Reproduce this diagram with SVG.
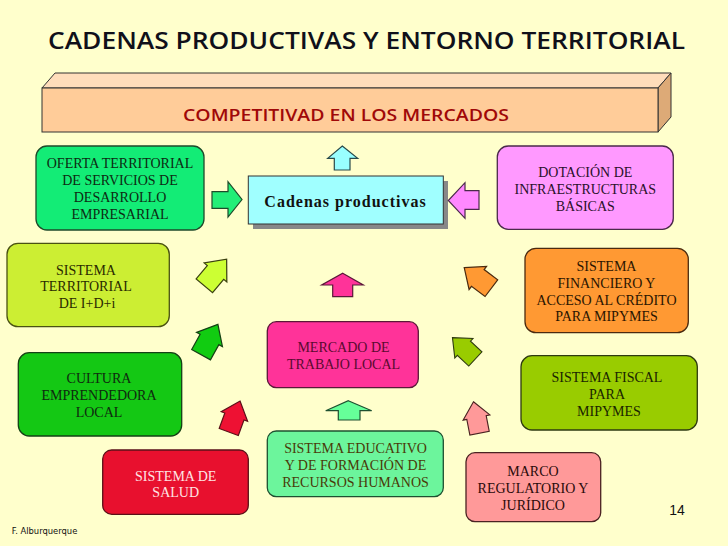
<svg xmlns="http://www.w3.org/2000/svg" xmlns:xlink="http://www.w3.org/1999/xlink" width="728" height="546" viewBox="0 0 728 546">
<style>
.bg{fill:#FFFFCC}
.box{stroke-width:1.3}
.t{font-family:"Liberation Serif","Times New Roman",serif;font-size:14px;text-anchor:middle}
.arr{stroke-width:1.2;stroke-linejoin:miter}
.title{font-family:"Open Sans","DejaVu Sans",Verdana,sans-serif;font-weight:600;font-size:23px;fill:#10101A;text-anchor:middle}
.bar{font-family:"Open Sans","DejaVu Sans",Verdana,sans-serif;font-weight:600;font-size:17px;fill:#A00808;text-anchor:middle}
</style>
<defs>
<path id="blk" d="M0,-17 L14.5,0 L10.5,0 L10.5,17 L-10.5,17 L-10.5,0 L-14.5,0 Z"/>
</defs>
<rect class="bg" x="0" y="0" width="728" height="546"/>

<text class="title" x="366.5" y="49" textLength="637" lengthAdjust="spacingAndGlyphs">CADENAS PRODUCTIVAS Y ENTORNO TERRITORIAL</text>

<g id="competitividad">
<polygon points="42,88 55,73 671,73 658,88" fill="#FFDDBB" stroke="#333" stroke-width="1"/>
<polygon points="658,88 671,73 671,117 658,132" fill="#DDAA77" stroke="#333" stroke-width="1"/>
<rect x="42" y="88" width="616" height="44" fill="#FFCC99" stroke="#333" stroke-width="1"/>
<text class="bar" x="346" y="120.5" textLength="326" lengthAdjust="spacingAndGlyphs">COMPETITIVAD EN LOS MERCADOS</text>
</g>

<g id="cadenas">
<rect x="253" y="181" width="195" height="48" fill="#888888"/>
<rect x="248.3" y="176" width="195" height="48" fill="#A0FFFF" stroke="#333" stroke-width="1"/>
<text x="345.5" y="206.5" font-family="'Liberation Serif','Times New Roman',serif" font-weight="bold" font-size="16" letter-spacing="1" text-anchor="middle" fill="#111">Cadenas productivas</text>
</g>

<g id="oferta">
<rect class="box" x="36" y="146" width="168" height="84" rx="11" fill="#13EC76" stroke="#1E4A2A"/>
<text class="t" fill="#0D2A12"><tspan x="120" y="168">OFERTA TERRITORIAL</tspan><tspan x="120" y="185">DE SERVICIOS DE</tspan><tspan x="120" y="202">DESARROLLO</tspan><tspan x="120" y="219">EMPRESARIAL</tspan></text>
</g>

<g id="territorial">
<rect class="box" x="7" y="243.3" width="162.3" height="83.4" rx="11" fill="#CCEE33" stroke="#4A5212"/>
<text class="t" fill="#2A2A00"><tspan x="86" y="274.7">SISTEMA</tspan><tspan x="86" y="291.3">TERRITORIAL</tspan><tspan x="87" y="308">DE I+D+i</tspan></text>
</g>

<g id="cultura">
<rect class="box" x="18.3" y="352.7" width="163.4" height="83.3" rx="11" fill="#14C814" stroke="#154015"/>
<text class="t" fill="#0F2A0F"><tspan x="99" y="383.3">CULTURA</tspan><tspan x="99" y="400.3">EMPRENDEDORA</tspan><tspan x="99" y="417.3">LOCAL</tspan></text>
</g>

<g id="salud">
<rect class="box" x="102.7" y="450" width="145.6" height="64.3" rx="9" fill="#E8102E" stroke="#5A1018"/>
<text class="t" fill="#FFE4E4"><tspan x="175.7" y="480.7">SISTEMA DE</tspan><tspan x="175.7" y="497.3">SALUD</tspan></text>
</g>

<g id="mercado">
<rect class="box" x="267.3" y="321.7" width="151" height="66" rx="9" fill="#FF3399" stroke="#5A1838"/>
<text class="t" fill="#5A0A30"><tspan x="343.5" y="352">MERCADO DE</tspan><tspan x="343.5" y="369">TRABAJO LOCAL</tspan></text>
</g>

<g id="educativo">
<rect class="box" x="267.3" y="431" width="176" height="65.7" rx="9" fill="#6CF59C" stroke="#1E5030"/>
<text class="t" fill="#4A3A08"><tspan x="355.5" y="453.3">SISTEMA EDUCATIVO</tspan><tspan x="355.5" y="470">Y DE FORMACIÓN DE</tspan><tspan x="355.5" y="486.7">RECURSOS HUMANOS</tspan></text>
</g>

<g id="dotacion">
<rect class="box" x="497.3" y="146" width="176" height="83.3" rx="11" fill="#FF99FF" stroke="#4A2A4A"/>
<text class="t" fill="#2A102A"><tspan x="585.3" y="177.3">DOTACIÓN DE</tspan><tspan x="585.3" y="194">INFRAESTRUCTURAS</tspan><tspan x="585.3" y="210.7">BÁSICAS</tspan></text>
</g>

<g id="financiero">
<rect class="box" x="525" y="248.3" width="163.3" height="84.4" rx="11" fill="#FF9933" stroke="#4A2A10"/>
<text class="t" fill="#2A1400"><tspan x="606.5" y="271.3">SISTEMA</tspan><tspan x="606.5" y="288">FINANCIERO Y</tspan><tspan x="606.5" y="304.7">ACCESO AL CRÉDITO</tspan><tspan x="606.5" y="321.3">PARA MIPYMES</tspan></text>
</g>

<g id="fiscal">
<rect class="box" x="521" y="355.7" width="176.3" height="74.3" rx="11" fill="#99CC00" stroke="#2E3A10"/>
<text class="t" fill="#1A2400"><tspan x="607" y="382.3">SISTEMA FISCAL</tspan><tspan x="607" y="399">PARA</tspan><tspan x="609" y="416.3">MIPYMES</tspan></text>
</g>

<g id="marco">
<rect class="box" x="466" y="452.7" width="134.7" height="69" rx="9" fill="#FF9999" stroke="#4A2222"/>
<text class="t" fill="#2A0A0A"><tspan x="533" y="476.3">MARCO</tspan><tspan x="533" y="493">REGULATORIO Y</tspan><tspan x="533" y="509.7">JURÍDICO</tspan></text>
</g>

<g id="connectors">
<path class="arr" d="M212,191.7 H228 V181.7 L242,199.5 L228,217 V208.3 H212 Z" fill="#22EE77" stroke="#1E4A2A"/>
<path class="arr" d="M479,190.7 H465 V182.7 L448.3,200.5 L465,218.3 V209.3 H479 Z" fill="#FF88FF" stroke="#4A2A4A"/>
<path class="arr" d="M342.3,146 L357.7,158.3 H350 V170 H334.3 V158.3 H327.7 Z" fill="#99FFFF" stroke="#2A4A4A"/>
<path class="arr" d="M342.7,273.3 L363.3,285 H352.7 V296.7 H332.7 V285 H321.7 Z" fill="#FF3399" stroke="#5A1838"/>
<path class="arr" d="M348.3,400.7 L371.7,410.7 H360 V420 H338.3 V410.7 H325.7 Z" fill="#66FF99" stroke="#1E5030"/>
<use xlink:href="#blk" class="arr" fill="#CCFF33" stroke="#3A4010" transform="translate(215.5,272.5) rotate(40) scale(1.02)"/>
<use xlink:href="#blk" class="arr" fill="#11CC11" stroke="#154015" transform="translate(209.5,339.5) rotate(29) scale(1.02)"/>
<use xlink:href="#blk" class="arr" fill="#EE1133" stroke="#5A1018" transform="translate(234.4,416.5) rotate(20) scale(0.97)"/>
<use xlink:href="#blk" class="arr" fill="#FF9933" stroke="#4A2A10" transform="translate(477.8,277.9) rotate(-53) scale(1)"/>
<use xlink:href="#blk" class="arr" fill="#99CC00" stroke="#2E3A10" transform="translate(463.9,348.3) rotate(-47) scale(0.92)"/>
<use xlink:href="#blk" class="arr" fill="#FF9999" stroke="#4A2222" transform="translate(476.5,417.5) rotate(-11) scale(0.94)"/>
</g>

<text x="677" y="515" font-family="'Liberation Sans',Arial,sans-serif" font-size="14" text-anchor="middle" fill="#111">14</text>
<text x="11.7" y="534" font-family="'DejaVu Sans',Verdana,sans-serif" font-size="8" fill="#111" textLength="65.6" lengthAdjust="spacingAndGlyphs">F. Alburquerque</text>
</svg>
